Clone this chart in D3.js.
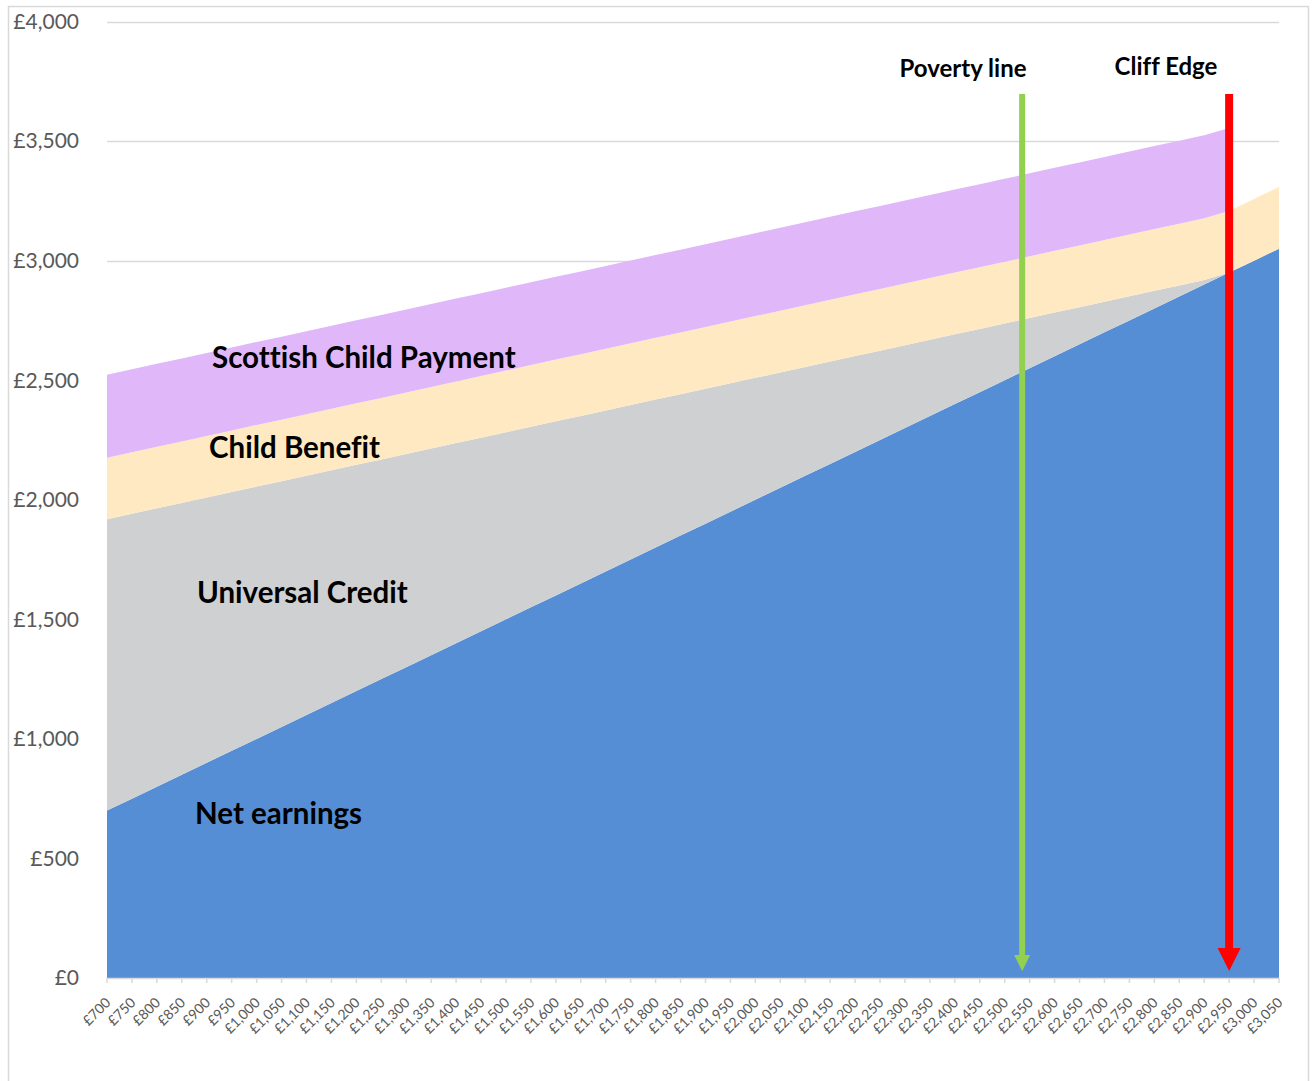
<!DOCTYPE html>
<html>
<head>
<meta charset="utf-8">
<script src="https://cdn.jsdelivr.net/npm/d3@7"></script>
<style>
  html, body { margin: 0; padding: 0; background: #fff; }
  svg { display: block; font-family: Lato, "Open Sans", sans-serif; font-variant-ligatures: none; }
</style>
</head>
<body>
<svg id="chart" width="1314" height="1081"></svg>
<script>
// Gross monthly earnings (x categories)
const categories = [700, 750, 800, 850, 900, 950, 1000, 1050, 1100, 1150, 1200, 1250, 1300, 1350, 1400, 1450,
  1500, 1550, 1600, 1650, 1700, 1750, 1800, 1850, 1900, 1950, 2000, 2050, 2100, 2150, 2200, 2250,
  2300, 2350, 2400, 2450, 2500, 2550, 2600, 2650, 2700, 2750, 2800, 2850, 2900, 2950, 3000, 3050];

// Monthly income components, stacked bottom to top
const netEarnings = [700, 750, 800, 850, 900, 950, 1000, 1050, 1100, 1150, 1200, 1250, 1300, 1350, 1400, 1450,
  1500, 1550, 1600, 1650, 1700, 1750, 1800, 1850, 1900, 1950, 2000, 2050, 2100, 2150, 2200, 2250,
  2300, 2350, 2400, 2450, 2500, 2550, 2600, 2650, 2700, 2750, 2800, 2850, 2900, 2950, 3000, 3050];
const universalCredit = [1218, 1191, 1164, 1136, 1109, 1082, 1055, 1027, 1000, 973, 946, 918, 891, 864, 837, 809,
  782, 755, 728, 700, 673, 646, 619, 591, 564, 537, 510, 482, 455, 428, 401, 373,
  346, 319, 292, 264, 237, 210, 183, 155, 128, 101, 74, 46, 19, 0, 0, 0];
const childBenefit = [258, 258, 258, 258, 258, 258, 258, 258, 258, 258, 258, 258, 258, 258, 258, 258,
  258, 258, 258, 258, 258, 258, 258, 258, 258, 258, 258, 258, 258, 258, 258, 258,
  258, 258, 258, 258, 258, 258, 258, 258, 258, 258, 258, 258, 258, 258, 258, 258];
// Scottish Child Payment stops once Universal Credit runs out
const scottishChildPayment = [347, 347, 347, 347, 347, 347, 347, 347, 347, 347, 347, 347, 347, 347, 347, 347,
  347, 347, 347, 347, 347, 347, 347, 347, 347, 347, 347, 347, 347, 347, 347, 347,
  347, 347, 347, 347, 347, 347, 347, 347, 347, 347, 347, 347, 347, 347, null, null];

const yTicks = [0, 500, 1000, 1500, 2000, 2500, 3000, 3500, 4000];

const seriesNames = ["Net earnings", "Universal Credit", "Child Benefit", "Scottish Child Payment"];
const seriesColors = ["#558ed5", "#cfd0d2", "#fee9c2", "#e0b7f9"];

// Marker lines: earnings level and label
const markers = [
  { name: "Poverty line", at: 2535, color: "#92d050", width: 6, head: 16, lx: 963, ly: 77 },
  { name: "Cliff Edge", at: 2950, color: "#ff0000", width: 8, head: 23, lx: 1166, ly: 75 }
];

const svg = d3.select("#chart");
const margin = { left: 107, right: 1279, top: 21.5, bottom: 978 };

const x = d3.scaleLinear().domain([categories[0], categories[categories.length - 1]])
  .range([margin.left, margin.right]);
const y = d3.scaleLinear().domain([0, 4000]).range([margin.bottom, margin.top]);

const fmt = v => "£" + d3.format(",")(v);

// Outer chart frame
svg.append("rect")
  .attr("x", 8.5).attr("y", 6.5).attr("width", 1300).attr("height", 1100)
  .attr("fill", "none").attr("stroke", "#d9d9d9").attr("stroke-width", 1.5);

// Horizontal gridlines
svg.append("g").selectAll("line").data(yTicks.filter(d => d > 0)).join("line")
  .attr("x1", margin.left).attr("x2", margin.right)
  .attr("y1", d => Math.round(y(d)) + 0.5).attr("y2", d => Math.round(y(d)) + 0.5)
  .attr("stroke", "#d9d9d9").attr("stroke-width", 1.5);

// Y axis labels
svg.append("g").selectAll("text").data(yTicks).join("text")
  .attr("x", 79).attr("y", d => y(d)).attr("dy", "0.35em")
  .attr("text-anchor", "end")
  .attr("font-size", 21).attr("fill", "#595959")
  .text(fmt);

// Stacked data
const rows = categories.map((c, i) => ({
  cat: c,
  "Net earnings": netEarnings[i],
  "Universal Credit": universalCredit[i],
  "Child Benefit": childBenefit[i],
  "Scottish Child Payment": scottishChildPayment[i]
}));
const stacked = d3.stack().keys(seriesNames).value((d, k) => d[k] == null ? 0 : d[k])(rows);

const area = d3.area()
  .x(d => x(d.data.cat))
  .y0(d => y(d[0]))
  .y1(d => y(d[1]));

svg.append("g").selectAll("path").data(stacked).join("path")
  .attr("fill", (d, i) => seriesColors[i])
  .attr("d", s => area(s.filter(p => p.data[s.key] != null)));

// X axis line and ticks
const xAxis = svg.append("g");
xAxis.append("line")
  .attr("x1", margin.left).attr("x2", margin.right)
  .attr("y1", margin.bottom + 0.5).attr("y2", margin.bottom + 0.5)
  .attr("stroke", "#d9d9d9").attr("stroke-width", 1.5);
xAxis.selectAll("line.tick").data(categories).join("line")
  .attr("class", "tick")
  .attr("x1", d => x(d)).attr("x2", d => x(d))
  .attr("y1", margin.bottom).attr("y2", margin.bottom + 5)
  .attr("stroke", "#d9d9d9").attr("stroke-width", 1.5);
xAxis.selectAll("text").data(categories).join("text")
  .attr("transform", d => `translate(${x(d) + 1},${margin.bottom + 22}) rotate(-45)`)
  .attr("text-anchor", "end").attr("dy", "0.35em")
  .attr("font-size", 14).attr("fill", "#595959")
  .text(fmt);

// Series labels
const seriesLabels = [
  { text: "Scottish Child Payment", x: 212, y: 368 },
  { text: "Child Benefit", x: 209, y: 458 },
  { text: "Universal Credit", x: 197, y: 603 },
  { text: "Net earnings", x: 195, y: 824 }
];
svg.append("g").selectAll("text").data(seriesLabels).join("text")
  .attr("x", d => d.x).attr("y", d => d.y)
  .attr("font-size", 29.5).attr("font-weight", "bold").attr("fill", "#000")
  .text(d => d.text);

// Vertical marker arrows
const mg = svg.append("g").selectAll("g").data(markers).join("g");
mg.append("line")
  .attr("x1", d => x(d.at)).attr("x2", d => x(d.at))
  .attr("y1", 94).attr("y2", d => 971 - d.head)
  .attr("stroke", d => d.color).attr("stroke-width", d => d.width);
mg.append("path")
  .attr("fill", d => d.color)
  .attr("d", d => {
    const cx = x(d.at), hw = d.head / 2, tip = 971, top = 971 - d.head;
    return `M${cx - hw},${top}L${cx + hw},${top}L${cx},${tip}Z`;
  });
mg.append("text")
  .attr("x", d => d.lx).attr("y", d => d.ly)
  .attr("text-anchor", "middle")
  .attr("font-size", 24).attr("font-weight", "bold").attr("fill", "#000")
  .text(d => d.name);
</script>
</body>
</html>
